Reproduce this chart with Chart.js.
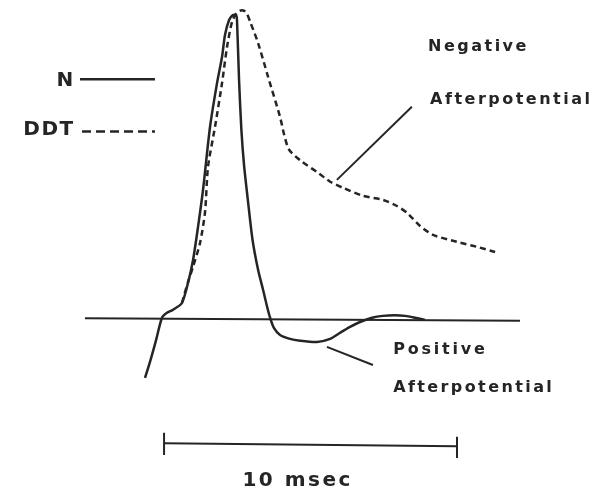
<!DOCTYPE html>
<html lang="en">
<head>
    <meta charset="UTF-8">
    <title>Action potential, N vs DDT</title>
    <script src="https://cdn.jsdelivr.net/npm/chart.js"></script>
    <style>
        html, body { margin: 0; padding: 0; background: #fff; }
        #wrap { width: 602px; height: 493px; position: relative; }
    </style>
</head>
<body>
    <div id="wrap"><canvas id="apChart"></canvas></div>
    <script>
        // time in msec (0 = start of the 10 msec bar), voltage in % of spike height (0 = resting line)
        const nTime = [-0.65, -0.48, -0.27, -0.07, 0.10, 0.31, 0.61, 0.82, 0.99, 1.16, 1.33, 1.57, 1.81, 1.98, 2.08, 2.22, 2.35, 2.46,
                       2.49, 2.56, 2.64, 2.73, 2.86, 3.02, 3.21, 3.38, 3.52, 3.62, 3.75, 3.96, 4.30, 4.64, 5.22, 5.67, 6.01, 6.35,
                       6.69, 7.10, 7.47, 7.88, 8.23, 8.57, 8.91];
        const nVolt = [-18.9, -13.7, -6.5, 0.7, 2.3, 3.3, 5.5, 12.1, 19.5, 30.3, 42.3, 62.9, 77.2, 85.7, 92.8, 97.7, 99.3, 99.3,
                       97.7, 78.2, 61.9, 50.5, 39.1, 26.1, 16.3, 9.8, 4.2, 0.7, -2.6, -4.9, -6.2, -6.8, -7.2, -6.2, -4.2, -2.3,
                       -0.7, 0.7, 1.3, 1.5, 1.3, 0.7, 0.0];

        const ddtTime = [0.61, 0.82, 0.99, 1.23, 1.40, 1.50, 1.74, 1.98, 2.15, 2.32, 2.46, 2.59, 2.73, 2.83, 2.94, 3.21, 3.55, 3.96,
                         4.10, 4.27, 4.71, 5.22, 5.67, 6.11, 6.79, 7.47, 7.95, 8.29, 8.74, 9.18, 10.00, 10.68, 11.30];
        const ddtVolt = [5.5, 12.4, 17.3, 25.1, 35.2, 49.8, 62.9, 77.2, 88.9, 97.1, 99.7, 100.7, 100.7, 99.7, 97.1, 90.2, 79.2, 66.1,
                         60.3, 55.4, 51.5, 48.2, 45.0, 43.0, 40.4, 39.1, 37.1, 34.9, 30.6, 27.7, 25.4, 23.8, 22.1];

        const baseTime = [-2.70, 12.15];
        const baseVolt = [0.5, -0.3];

        const barTime = [0, 10];
        const barVolt = [-40.2, -41.2];
        const barTickL = [-36.8, -44.0];
        const barTickR = [-38.1, -45.0];

        const keyTime = [-2.87, -0.31];
        const keyTimeDDT = [-2.80, -0.31];
        const keyVoltN = [78.4, 78.4];
        const keyVoltDDT = [61.4, 61.4];

        const negPtrTime = [5.90, 8.46];
        const negPtrVolt = [45.6, 69.4];
        const posPtrTime = [5.56, 7.13];
        const posPtrVolt = [-8.8, -14.7];

        const labelText = ['N', 'DDT', 'Negative', 'Afterpotential', 'Positive', 'Afterpotential', '10 msec'];
        const labelTime = [-3.05, -3.05, 9.01, 9.08, 7.82, 7.82, 4.56];
        const labelVolt = [78.0, 61.9, 89.1, 71.8, -9.8, -22.3, -52.4];
        const labelAlign = ['right', 'right', 'left', 'left', 'left', 'left', 'center'];
        const labelSize = [20, 20, 16, 16, 16, 16, 20];
        const labelSpacing = [1.5, 1.5, 2.5, 2.5, 2.8, 2.4, 2.5];

        const ink = '#252525';

        function zip(xs, ys) {
            return xs.map((x, i) => ({ x: x, y: ys[i] }));
        }

        function seg(xs, ys, width, dash, tension) {
            return {
                data: zip(xs, ys),
                borderColor: ink,
                borderWidth: width,
                borderDash: dash || [],
                tension: tension || 0,
                pointRadius: 0,
                fill: false
            };
        }

        const textLabels = {
            id: 'textLabels',
            afterDatasetsDraw(chart) {
                const ctx = chart.ctx;
                const xs = chart.scales.x, ys = chart.scales.y;
                ctx.save();
                ctx.fillStyle = ink;
                ctx.textBaseline = 'middle';
                labelText.forEach((t, i) => {
                    ctx.font = 'bold ' + labelSize[i] + 'px "DejaVu Sans", sans-serif';
                    ctx.letterSpacing = labelSpacing[i] + 'px';
                    ctx.textAlign = labelAlign[i];
                    ctx.fillText(t, xs.getPixelForValue(labelTime[i]), ys.getPixelForValue(labelVolt[i]));
                });
                ctx.restore();
            }
        };

        new Chart(document.getElementById('apChart'), {
            type: 'line',
            data: {
                datasets: [
                    seg(baseTime, baseVolt, 2),
                    seg(nTime, nVolt, 2.5, null, 0.25),
                    seg(ddtTime, ddtVolt, 2.5, [6, 4], 0.25),
                    seg(barTime, barVolt, 2),
                    seg([0, 0], barTickL, 2),
                    seg([10, 10], barTickR, 2),
                    seg(keyTime, keyVoltN, 2.5),
                    seg(keyTimeDDT, keyVoltDDT, 2.5, [9, 5]),
                    seg(negPtrTime, negPtrVolt, 2),
                    seg(posPtrTime, posPtrVolt, 2)
                ]
            },
            options: {
                responsive: true,
                maintainAspectRatio: false,
                animation: false,
                layout: { padding: 0 },
                plugins: { legend: { display: false }, tooltip: { enabled: false } },
                scales: {
                    x: { type: 'linear', min: -5.6, max: 14.95, display: false },
                    y: { type: 'linear', min: -56.4, max: 104.2, display: false }
                }
            },
            plugins: [textLabels]
        });
    </script>
</body>
</html>
